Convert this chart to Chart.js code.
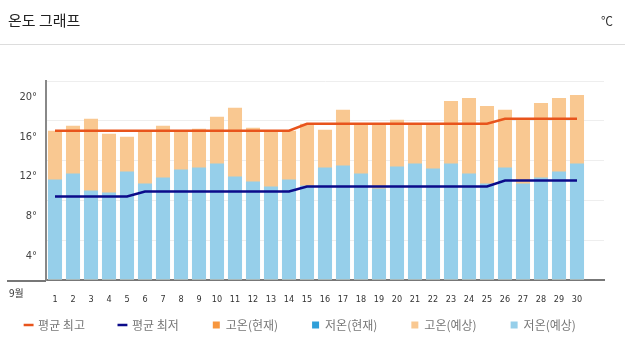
<!DOCTYPE html>
<html>
<head>
<meta charset="utf-8">
<script src="https://cdn.jsdelivr.net/npm/chart.js@4/dist/chart.umd.min.js"></script>
<style>
  body { margin: 0; background: #fff; font-family: "Noto Sans CJK KR", sans-serif; }
  #wrap { position: relative; width: 625px; height: 351px; }
  #title { position: absolute; left: 8px; top: 9px; font-size: 15px; color: #222; }
  #unit { position: absolute; right: 12px; top: 12px; font-size: 12px; color: #333; }
  #rule { position: absolute; left: 0; top: 44px; width: 625px; height: 1px; background: #ddd; }
  #myChart { position: absolute; left: 0; top: 0; }
</style>
</head>
<body>
<div id="wrap">
  <canvas id="myChart" width="625" height="351"></canvas>
  <div id="title">온도 그래프</div>
  <div id="unit">℃</div>
  <div id="rule"></div>
</div>
<script>
const days = ["1","2","3","4","5","6","7","8","9","10","11","12","13","14","15",
  "16","17","18","19","20","21","22","23","24","25","26","27","28","29","30",""];

const highForecast = [15.0,15.5,16.2,14.7,14.4,15.0,15.5,15.0,15.2,16.4,17.3,15.3,14.9,15.0,15.7,
  15.1,17.1,15.7,15.6,16.1,15.7,15.7,18.0,18.3,17.5,17.1,16.2,17.8,18.3,18.6];
const lowForecast = [10.1,10.7,9.0,8.8,10.9,9.7,10.3,11.1,11.3,11.7,10.4,9.9,9.4,10.1,9.5,
  11.3,11.5,10.7,9.2,11.4,11.7,11.2,11.7,10.7,9.7,11.3,9.7,10.3,10.9,11.7];
const avgHigh = [15.0,15.0,15.0,15.0,15.0,15.0,15.0,15.0,15.0,15.0,15.0,15.0,15.0,15.0,15.7,
  15.7,15.7,15.7,15.7,15.7,15.7,15.7,15.7,15.7,15.7,16.2,16.2,16.2,16.2,16.2];
const avgLow = [8.4,8.4,8.4,8.4,8.4,8.9,8.9,8.9,8.9,8.9,8.9,8.9,8.9,8.9,9.4,
  9.4,9.4,9.4,9.4,9.4,9.4,9.4,9.4,9.4,9.4,10.0,10.0,10.0,10.0,10.0];
const highNow = [];
const lowNow = [];

const monthLabel = "9월";

const extras = {
  id: "extras",
  afterDraw(chart) {
    const c = chart.ctx;
    const a = chart.chartArea;
    c.save();
    c.strokeStyle = "#777";
    c.lineWidth = 2;
    c.beginPath();
    c.moveTo(7, a.bottom + 1);
    c.lineTo(a.left, a.bottom + 1);
    c.stroke();
    c.fillStyle = "#333";
    c.font = "10px 'Noto Sans CJK KR'";
    c.textBaseline = "middle";
    c.fillText(monthLabel, 9, a.bottom + 13);
    c.restore();
  },
};

const ctx = document.getElementById("myChart");

const myChart = new Chart(ctx, {
  data: {
    labels: days,
    datasets: [
      {
        type: "line",
        label: "평균 최고",
        data: avgHigh,
        borderColor: "#e8541c",
        backgroundColor: "#e8541c",
        borderWidth: 2.5,
        pointRadius: 0,
        order: 0,
      },
      {
        type: "line",
        label: "평균 최저",
        data: avgLow,
        borderColor: "#0b0b8a",
        backgroundColor: "#0b0b8a",
        borderWidth: 2.5,
        pointRadius: 0,
        order: 1,
      },
      {
        type: "bar",
        label: "고온(현재)",
        data: highNow,
        backgroundColor: "#f7963e",
        grouped: false,
        order: 4,
      },
      {
        type: "bar",
        label: "저온(현재)",
        data: lowNow,
        backgroundColor: "#2f9fd8",
        grouped: false,
        order: 3,
      },
      {
        type: "bar",
        label: "고온(예상)",
        data: highForecast,
        backgroundColor: "#f9c891",
        grouped: false,
        barPercentage: 0.78,
        categoryPercentage: 1,
        order: 6,
      },
      {
        type: "bar",
        label: "저온(예상)",
        data: lowForecast,
        backgroundColor: "#96cfea",
        grouped: false,
        barPercentage: 0.78,
        categoryPercentage: 1,
        order: 5,
      },
    ],
  },
  options: {
    responsive: false,
    animation: false,
    layout: { padding: { top: 81, right: 0, left: 0, bottom: 10 } },
    plugins: {
      tooltip: { enabled: false },
      legend: {
        position: "bottom",
        labels: {
          usePointStyle: true,
          boxWidth: 7,
          boxHeight: 7,
          padding: 10,
          color: "#777",
          font: { family: "'Noto Sans CJK KR'", size: 12 },
          generateLabels(chart) {
            // trailing em spaces widen the gap between legend items
            return chart.data.datasets.map((ds, i) => ({
              text: ds.label + "\u2003\u2003",
              fillStyle: ds.backgroundColor,
              strokeStyle: ds.borderColor || ds.backgroundColor,
              lineWidth: ds.type === "line" ? 2.5 : 0,
              pointStyle: ds.type === "line" ? "line" : "rect",
              fontColor: "#777",
              datasetIndex: i,
              hidden: false,
            }));
          },
        },
      },
    },
    scales: {
      x: {
        grid: { display: false },
        border: { color: "#777", width: 2 },
        ticks: {
          color: "#333",
          autoSkip: false,
          maxRotation: 0,
          padding: 6,
          font: { family: "'DejaVu Sans Condensed'", size: 9 },
        },
        afterFit: (scale) => { scale.height = 29; },
      },
      y: {
        min: 0,
        max: 20,
        grid: { color: "#eeeeee", drawTicks: false },
        border: { color: "#888", width: 2 },
        ticks: {
          stepSize: 4,
          color: "#444",
          padding: 9,
          labelOffset: 16,
          font: { family: "'DejaVu Sans Condensed'", size: 11 },
          callback: (v) => (v === 0 ? "" : v + "°"),
        },
        afterFit: (scale) => { scale.width = 46; },
      },
      yRight: {
        position: "right",
        grid: { display: false },
        border: { display: false },
        ticks: { display: false },
        afterFit: (scale) => { scale.width = 21; },
      },
    },
  },
  plugins: [extras],
});
</script>
</body>
</html>
